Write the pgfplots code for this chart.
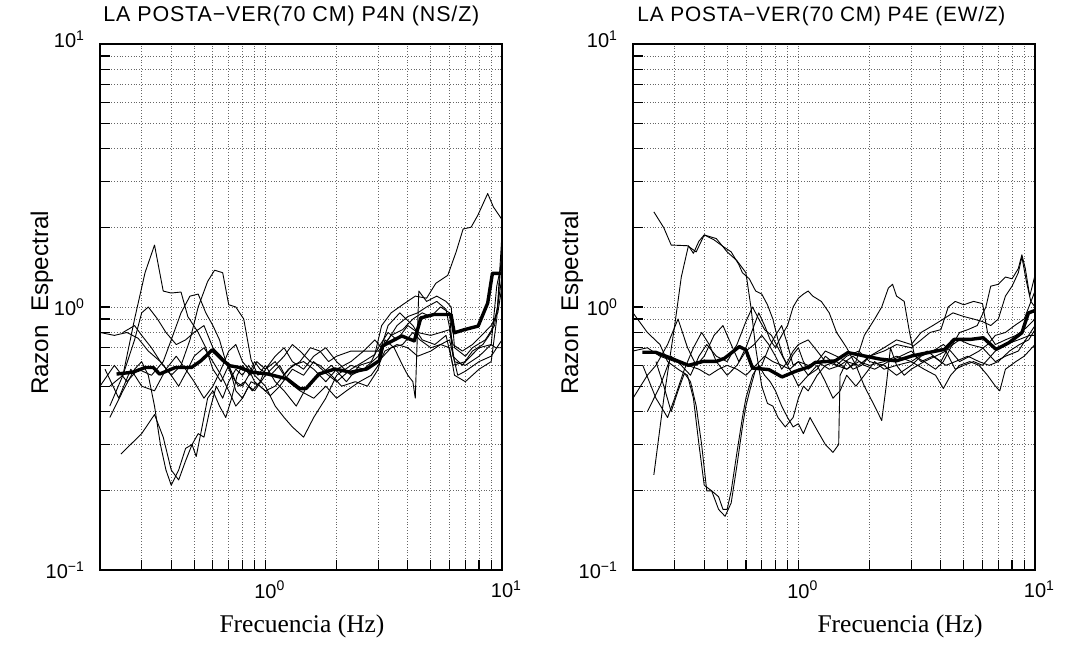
\documentclass[border=0pt]{standalone}
\usepackage{fontspec}
\usepackage{graphicx}
\usepackage{pgfplots}
\pgfplotsset{compat=1.18}
\setmainfont{Liberation Sans}
\newfontfamily\plotfont{Liberation Sans}
\newfontfamily\titlefont[LetterSpace=4]{Liberation Sans}
\newfontfamily\timesfont{Liberation Serif}

\tikzset{
  hvthin/.style={black, line width=0.45pt, line join=round},
  hvmean/.style={black, line width=1.7pt, line join=round},
}

\begin{document}
\begin{tikzpicture}
\path[use as bounding box] (0,0) rectangle (536.5pt,323.5pt);

% ---------------- Left panel: P4N (NS/Z) ----------------
\begin{axis}[at={(50pt,38.5pt)}, anchor=south west,
    scale only axis, width=201pt, height=263pt,
    xmode=log, ymode=log,
    xmin=0.2, xmax=10, ymin=0.1, ymax=10,
    xtick={1,10}, ytick={0.1,1,10},
    minor xtick={0.2,0.3,0.4,0.5,0.6,0.7,0.8,0.9,2,3,4,5,6,7,8,9},
    minor ytick={0.2,0.3,0.4,0.5,0.6,0.7,0.8,0.9,2,3,4,5,6,7,8,9},
    xticklabels={{10\rlap{\textsuperscript{0}}},{10\rlap{\textsuperscript{1}}}},
    yticklabels={{10\textsuperscript{−1}},{10\textsuperscript{0}},{\raisebox{5pt}{10\textsuperscript{1}}}},
    grid=both,
    major grid style={densely dotted, black!60, line width=0.4pt},
    minor grid style={densely dotted, black!60, line width=0.4pt},
    tick align=inside, xtick pos=bottom, ytick pos=left,
    major tick length=5pt, minor tick length=5pt,
    tick style={black, line width=0.6pt},
    axis line style={black, line width=0.8pt},
    ticklabel style={font=\plotfont\fontsize{10pt}{12pt}\selectfont},
    xticklabel style={yshift=-2pt},
    yticklabel style={xshift=-4pt}]
\addplot[hvthin] coordinates {(0.22,0.42)(0.25,0.55)(0.28,0.9)(0.31,1.35)(0.34,1.72)(0.37,1.15)(0.40,1.13)(0.44,1.14)(0.47,0.92)(0.52,0.80)(0.56,0.70)(0.60,0.58)(0.65,0.52)(0.70,0.60)(0.75,0.48)(0.80,0.45)(0.87,0.52)(0.95,0.50)(1.05,0.46)(1.15,0.50)(1.3,0.58)(1.45,0.55)(1.6,0.62)(1.8,0.56)(2.0,0.52)(2.3,0.58)(2.6,0.62)(2.9,0.66)(3.1,0.85)(3.4,0.95)(3.8,1.02)(4.3,1.1)(4.8,1.08)(5.25,1.23)(5.9,1.32)(6.4,1.62)(6.85,1.98)(7.4,2.01)(7.9,2.23)(8.7,2.7)(9.2,2.4)(10,2.15)};
\addplot[hvthin] coordinates {(0.2,0.8)(0.23,0.78)(0.26,0.8)(0.29,0.76)(0.32,0.68)(0.36,0.62)(0.40,0.55)(0.44,0.6)(0.48,0.75)(0.52,1.0)(0.57,1.25)(0.61,1.38)(0.66,1.35)(0.70,1.02)(0.75,1.0)(0.81,0.9)(0.87,0.63)(0.93,0.55)(1.0,0.6)(1.1,0.52)(1.2,0.48)(1.35,0.42)(1.5,0.5)(1.7,0.55)(1.9,0.6)(2.2,0.52)(2.5,0.6)(2.8,0.62)(3.0,0.7)(3.3,0.8)(3.6,0.75)(4.0,0.85)(4.4,0.8)(5,0.78)(5.5,0.8)(6.0,0.82)(6.3,0.62)(7,0.6)(8,0.65)(9,0.72)(9.5,1.2)(10,1.5)};
\addplot[hvthin] coordinates {(0.22,0.38)(0.25,0.48)(0.28,0.58)(0.3,0.62)(0.32,0.55)(0.34,0.42)(0.36,0.3)(0.38,0.24)(0.40,0.21)(0.43,0.24)(0.46,0.29)(0.49,0.30)(0.51,0.27)(0.54,0.35)(0.57,0.45)(0.60,0.48)(0.64,0.42)(0.68,0.38)(0.72,0.45)(0.76,0.55)(0.8,0.6)(0.86,0.55)(0.92,0.62)(1.0,0.58)(1.1,0.65)(1.2,0.7)(1.3,0.62)(1.45,0.58)(1.6,0.65)(1.8,0.7)(2.0,0.62)(2.3,0.55)(2.6,0.58)(3.0,0.65)(3.3,0.85)(3.7,0.95)(4.2,0.85)(4.6,0.75)(5.2,0.72)(5.8,0.78)(6.2,0.6)(7,0.62)(8,0.7)(9,0.72)(9.4,0.7)(10,0.7)};
\addplot[hvthin] coordinates {(0.245,0.276)(0.3,0.33)(0.34,0.39)(0.37,0.32)(0.40,0.24)(0.43,0.22)(0.46,0.26)(0.49,0.30)(0.52,0.33)(0.55,0.32)(0.58,0.40)(0.62,0.50)(0.66,0.45)(0.7,0.52)(0.75,0.58)(0.8,0.55)(0.85,0.6)(0.9,0.55)(1.0,0.5)(1.1,0.42)(1.2,0.38)(1.3,0.35)(1.45,0.32)(1.6,0.38)(1.8,0.45)(2.0,0.55)(2.3,0.6)(2.6,0.58)(3.0,0.62)(3.4,0.7)(3.8,0.72)(4.2,0.8)(4.5,0.75)(5,0.7)(5.5,0.72)(6,0.75)(6.5,0.55)(7,0.57)(8,0.62)(9,0.65)(10,0.75)};
\addplot[hvthin] coordinates {(0.22,0.5)(0.25,0.55)(0.28,0.75)(0.3,0.95)(0.32,1.0)(0.35,0.9)(0.38,0.8)(0.42,0.72)(0.46,0.75)(0.5,0.8)(0.55,0.85)(0.6,0.7)(0.65,0.65)(0.7,0.6)(0.75,0.52)(0.8,0.5)(0.85,0.55)(0.9,0.62)(0.95,0.58)(1.05,0.55)(1.15,0.6)(1.25,0.52)(1.4,0.48)(1.6,0.45)(1.8,0.5)(2.0,0.45)(2.2,0.48)(2.5,0.52)(2.8,0.55)(3.0,0.6)(3.2,0.68)(3.6,0.72)(4.0,0.7)(4.4,0.65)(5,0.68)(5.5,0.72)(6,0.7)(6.3,0.55)(7,0.52)(8,0.58)(9,0.62)(9.5,0.9)(10,1.9)};
\addplot[hvthin] coordinates {(0.2,0.5)(0.23,0.6)(0.26,0.52)(0.29,0.58)(0.33,0.55)(0.37,0.62)(0.4,0.75)(0.44,0.95)(0.48,1.1)(0.52,1.12)(0.56,0.95)(0.6,0.85)(0.64,0.75)(0.68,0.62)(0.72,0.55)(0.77,0.5)(0.82,0.52)(0.88,0.48)(0.95,0.52)(1.0,0.58)(1.1,0.62)(1.2,0.55)(1.3,0.6)(1.45,0.62)(1.6,0.58)(1.8,0.52)(2.0,0.58)(2.3,0.62)(2.6,0.68)(2.9,0.75)(3.1,0.7)(3.4,0.78)(3.8,0.82)(4.2,0.9)(4.6,0.95)(5.0,0.92)(5.5,1.0)(6.0,0.95)(6.2,0.65)(6.8,0.6)(7.5,0.68)(8.3,0.72)(9,0.8)(9.6,1.0)(10,1.7)};
\addplot[hvthin] coordinates {(0.25,0.8)(0.28,0.85)(0.3,0.78)(0.33,0.7)(0.36,0.62)(0.4,0.55)(0.43,0.5)(0.47,0.58)(0.5,0.65)(0.55,0.7)(0.6,0.62)(0.65,0.55)(0.7,0.48)(0.75,0.42)(0.8,0.45)(0.85,0.5)(0.9,0.48)(1.0,0.55)(1.1,0.6)(1.2,0.65)(1.3,0.72)(1.4,0.68)(1.55,0.62)(1.7,0.6)(1.9,0.55)(2.1,0.5)(2.4,0.52)(2.7,0.5)(3.0,0.58)(3.2,0.75)(3.5,0.7)(3.8,0.6)(4.0,0.55)(4.2,0.52)(4.3,0.45)(4.45,1.15)(4.8,1.05)(5.3,1.1)(5.8,1.05)(6.1,1.0)(6.3,0.7)(7,0.65)(7.5,0.7)(8.5,0.75)(9.3,0.85)(10,1.3)};
\addplot[hvthin] coordinates {(0.21,0.58)(0.24,0.45)(0.27,0.58)(0.3,0.5)(0.34,0.48)(0.38,0.58)(0.42,0.65)(0.46,0.58)(0.5,0.52)(0.55,0.45)(0.6,0.5)(0.65,0.58)(0.7,0.68)(0.75,0.72)(0.8,0.62)(0.85,0.58)(0.9,0.52)(1.0,0.48)(1.1,0.5)(1.25,0.58)(1.4,0.62)(1.55,0.7)(1.7,0.68)(1.85,0.62)(2.0,0.65)(2.3,0.68)(2.6,0.68)(3.0,0.68)(3.3,0.75)(3.6,0.85)(4.0,0.92)(4.4,0.95)(4.8,1.0)(5.3,1.05)(5.8,0.98)(6.2,0.72)(6.8,0.68)(7.5,0.72)(8.2,0.78)(9,0.85)(9.6,0.95)(10,1.2)};
\addplot[hvmean] coordinates {(0.235,0.556)(0.275,0.565)(0.311,0.589)(0.336,0.589)(0.357,0.556)(0.417,0.589)(0.487,0.589)(0.535,0.625)(0.596,0.687)(0.664,0.625)(0.707,0.598)(0.776,0.589)(0.878,0.565)(1.025,0.556)(1.234,0.533)(1.397,0.489)(1.486,0.49)(1.683,0.556)(1.965,0.581)(2.295,0.565)(2.68,0.581)(3.03,0.625)(3.13,0.711)(3.77,0.776)(4.26,0.743)(4.54,0.909)(5.14,0.936)(6.09,0.936)(6.28,0.798)(7.0,0.822)(7.93,0.846)(8.7,1.035)(9.11,1.343)(10,1.343)};
\end{axis}

% ---------------- Right panel: P4E (EW/Z) ----------------
\begin{axis}[at={(316.5pt,38.5pt)}, anchor=south west,
    scale only axis, width=201pt, height=263pt,
    xmode=log, ymode=log,
    xmin=0.2, xmax=10, ymin=0.1, ymax=10,
    xtick={1,10}, ytick={0.1,1,10},
    minor xtick={0.2,0.3,0.4,0.5,0.6,0.7,0.8,0.9,2,3,4,5,6,7,8,9},
    minor ytick={0.2,0.3,0.4,0.5,0.6,0.7,0.8,0.9,2,3,4,5,6,7,8,9},
    xticklabels={{10\rlap{\textsuperscript{0}}},{10\rlap{\textsuperscript{1}}}},
    yticklabels={{10\textsuperscript{−1}},{10\textsuperscript{0}},{\raisebox{5pt}{10\textsuperscript{1}}}},
    grid=both,
    major grid style={densely dotted, black!60, line width=0.4pt},
    minor grid style={densely dotted, black!60, line width=0.4pt},
    tick align=inside, xtick pos=bottom, ytick pos=left,
    major tick length=5pt, minor tick length=5pt,
    tick style={black, line width=0.6pt},
    axis line style={black, line width=0.8pt},
    ticklabel style={font=\plotfont\fontsize{10pt}{12pt}\selectfont},
    xticklabel style={yshift=-2pt},
    yticklabel style={xshift=-4pt}]
\addplot[hvthin] coordinates {(0.245,2.3)(0.27,2.0)(0.29,1.72)(0.34,1.71)(0.37,1.62)(0.40,1.88)(0.44,1.80)(0.48,1.70)(0.52,1.62)(0.56,1.45)(0.58,1.35)(0.62,1.28)(0.66,1.15)(0.7,1.12)(0.74,1.02)(0.78,0.9)(0.82,0.75)(0.86,0.65)(0.9,0.6)(0.95,0.66)(1.0,0.7)(1.05,0.62)(1.1,0.58)(1.2,0.62)(1.3,0.68)(1.45,0.65)(1.6,0.62)(1.8,0.6)(2.0,0.65)(2.3,0.68)(2.6,0.72)(3.0,0.7)(3.3,0.75)(3.6,0.8)(4.0,0.82)(4.3,1.0)(4.6,1.05)(5.0,1.02)(5.5,1.05)(6.0,1.03)(6.3,0.8)(6.8,0.72)(7.5,0.75)(8.3,0.78)(9,0.82)(10,0.9)};
\addplot[hvthin] coordinates {(0.245,0.23)(0.27,0.45)(0.3,0.85)(0.32,1.3)(0.343,1.71)(0.36,1.6)(0.38,1.78)(0.40,1.88)(0.45,1.82)(0.5,1.62)(0.55,1.5)(0.6,1.35)(0.63,1.0)(0.66,0.7)(0.7,0.5)(0.74,0.43)(0.78,0.42)(0.82,0.38)(0.88,0.35)(0.95,0.38)(1.0,0.45)(1.05,0.5)(1.1,0.48)(1.2,0.55)(1.3,0.6)(1.45,0.62)(1.6,0.58)(1.8,0.62)(2.0,0.6)(2.3,0.62)(2.6,0.65)(3.0,0.62)(3.5,0.68)(4.0,0.62)(4.3,0.7)(4.8,0.75)(5.3,0.72)(6,0.7)(6.8,0.62)(7.5,0.65)(8.5,0.68)(10,0.85)};
\addplot[hvthin] coordinates {(0.2,0.95)(0.23,0.8)(0.26,0.72)(0.28,0.62)(0.31,0.58)(0.34,0.55)(0.36,0.45)(0.38,0.3)(0.40,0.21)(0.43,0.2)(0.46,0.17)(0.49,0.16)(0.52,0.18)(0.55,0.25)(0.58,0.35)(0.6,0.42)(0.63,0.5)(0.66,0.58)(0.7,0.6)(0.75,0.7)(0.8,0.78)(0.85,0.85)(0.9,0.72)(0.95,0.6)(1.0,0.62)(1.1,0.55)(1.2,0.6)(1.3,0.52)(1.4,0.45)(1.5,0.48)(1.6,0.55)(1.75,0.5)(1.9,0.55)(2.1,0.62)(2.3,0.58)(2.6,0.6)(3.0,0.62)(3.4,0.58)(3.8,0.55)(4.1,0.49)(4.4,0.55)(4.8,0.6)(5.3,0.62)(5.8,0.6)(6.3,0.55)(6.8,0.5)(7.1,0.48)(7.5,0.58)(8.3,0.62)(9,0.65)(10,0.72)};
\addplot[hvthin] coordinates {(0.25,0.62)(0.27,0.5)(0.29,0.4)(0.31,0.48)(0.33,0.56)(0.35,0.52)(0.37,0.42)(0.39,0.3)(0.41,0.2)(0.43,0.2)(0.46,0.19)(0.48,0.17)(0.5,0.17)(0.52,0.2)(0.55,0.28)(0.58,0.38)(0.6,0.45)(0.64,0.55)(0.68,0.6)(0.72,0.55)(0.76,0.52)(0.8,0.48)(0.85,0.42)(0.9,0.38)(0.95,0.35)(1.0,0.36)(1.05,0.33)(1.12,0.38)(1.2,0.34)(1.3,0.3)(1.4,0.28)(1.48,0.3)(1.5,0.55)(1.6,0.62)(1.7,0.58)(1.85,0.6)(2.0,0.65)(2.3,0.7)(2.6,0.75)(3.0,0.72)(3.3,0.8)(3.7,0.85)(4.1,0.9)(4.5,0.95)(5,0.92)(5.5,0.9)(6,0.88)(6.5,0.85)(7,0.9)(7.5,1.1)(8,1.2)(8.5,1.35)(8.8,1.55)(9.2,1.25)(9.6,1.05)(10,1.0)};
\addplot[hvthin] coordinates {(0.2,0.45)(0.23,0.55)(0.25,0.6)(0.28,0.72)(0.31,0.9)(0.34,0.7)(0.37,0.6)(0.4,0.65)(0.44,0.78)(0.48,0.85)(0.52,0.72)(0.56,0.62)(0.6,0.7)(0.64,0.82)(0.68,0.95)(0.72,0.85)(0.76,0.75)(0.8,0.7)(0.85,0.78)(0.9,0.85)(0.95,1.0)(1.0,1.08)(1.05,1.12)(1.1,1.15)(1.15,1.1)(1.25,1.05)(1.35,0.95)(1.45,0.8)(1.6,0.7)(1.75,0.6)(1.9,0.5)(2.1,0.42)(2.25,0.37)(2.35,0.5)(2.45,0.7)(2.6,0.6)(2.8,0.55)(3.0,0.58)(3.4,0.62)(3.8,0.65)(4.2,0.68)(4.6,0.58)(5.0,0.6)(5.5,0.62)(6,0.6)(6.5,0.65)(7,0.7)(7.5,0.72)(8.5,0.75)(9.5,0.78)(10,0.78)};
\addplot[hvthin] coordinates {(0.22,0.6)(0.25,0.45)(0.28,0.38)(0.3,0.45)(0.33,0.58)(0.36,0.7)(0.39,0.8)(0.42,0.72)(0.45,0.62)(0.5,0.55)(0.55,0.6)(0.6,0.68)(0.65,0.72)(0.7,0.78)(0.75,0.72)(0.8,0.65)(0.85,0.58)(0.9,0.62)(0.95,0.68)(1.0,0.72)(1.1,0.75)(1.2,0.68)(1.3,0.62)(1.45,0.6)(1.6,0.58)(1.75,0.62)(1.9,0.78)(2.1,0.9)(2.25,1.0)(2.4,1.18)(2.5,1.22)(2.6,1.1)(2.8,1.05)(2.95,0.8)(3.1,0.65)(3.4,0.62)(3.8,0.58)(4.1,0.62)(4.4,0.7)(4.8,0.8)(5.2,0.82)(5.7,0.85)(6.2,1.0)(6.5,1.2)(7,1.22)(7.5,1.3)(8,1.28)(8.5,1.4)(8.8,1.58)(9.1,1.4)(9.5,1.1)(10,1.32)};
\addplot[hvthin] coordinates {(0.23,0.4)(0.26,0.5)(0.29,0.65)(0.32,0.6)(0.35,0.55)(0.38,0.65)(0.41,0.72)(0.45,0.65)(0.5,0.62)(0.55,0.72)(0.6,0.88)(0.64,1.0)(0.68,0.9)(0.72,0.82)(0.77,0.78)(0.82,0.7)(0.88,0.62)(0.95,0.55)(1.0,0.5)(1.1,0.55)(1.2,0.58)(1.3,0.65)(1.45,0.6)(1.6,0.65)(1.8,0.68)(2.0,0.62)(2.3,0.6)(2.6,0.55)(3.0,0.6)(3.3,0.65)(3.7,0.68)(4.1,0.72)(4.4,0.68)(4.8,0.62)(5.3,0.65)(5.8,0.68)(6.3,0.72)(6.8,0.78)(7.5,0.8)(8.2,0.85)(9,0.9)(10,1.15)};
\addplot[hvthin] coordinates {(0.2,0.68)(0.23,0.7)(0.26,0.65)(0.3,0.62)(0.34,0.6)(0.38,0.58)(0.42,0.55)(0.46,0.58)(0.5,0.6)(0.55,0.58)(0.6,0.55)(0.66,0.6)(0.72,0.65)(0.78,0.62)(0.85,0.6)(0.92,0.58)(1.0,0.62)(1.1,0.6)(1.2,0.62)(1.35,0.58)(1.5,0.6)(1.7,0.65)(1.9,0.6)(2.1,0.58)(2.4,0.62)(2.7,0.65)(3.0,0.68)(3.3,0.62)(3.7,0.65)(4.2,0.6)(4.6,0.62)(5.2,0.65)(5.8,0.62)(6.4,0.6)(7,0.62)(7.8,0.68)(8.6,0.72)(9.4,0.75)(10,0.82)};
\addplot[hvmean] coordinates {(0.219,0.673)(0.249,0.673)(0.278,0.648)(0.343,0.6)(0.396,0.621)(0.45,0.621)(0.488,0.639)(0.563,0.707)(0.60,0.687)(0.64,0.586)(0.751,0.578)(0.853,0.542)(0.97,0.569)(1.12,0.594)(1.18,0.616)(1.43,0.624)(1.62,0.671)(1.89,0.652)(2.21,0.634)(2.59,0.624)(3.03,0.652)(3.54,0.671)(4.15,0.69)(4.55,0.753)(5.33,0.753)(6.04,0.764)(6.85,0.69)(7.77,0.732)(8.8,0.798)(9.38,0.949)(10,0.97)};
\end{axis}

% ---------------- Titles and labels ----------------
\begin{scope}[every node/.style={inner sep=0pt}]
\node[anchor=west] at (51.5pt,315.5pt) {\resizebox{188pt}{!}{\titlefont LA POSTA−VER(70 CM) P4N (NS/Z)}};
\node[anchor=west] at (318.5pt,315.5pt) {\resizebox{184pt}{!}{\titlefont LA POSTA−VER(70 CM) P4E (EW/Z)}};
\node[rotate=90] at (21pt,172pt) {\resizebox{92pt}{!}{\plotfont Razon\ \ Espectral}};
\node[rotate=90] at (286pt,172pt) {\resizebox{92pt}{!}{\plotfont Razon\ \ Espectral}};
\node[font=\timesfont\fontsize{12.75pt}{14pt}\selectfont] at (151pt,10.5pt) {Frecuencia (Hz)};
\node[font=\timesfont\fontsize{12.75pt}{14pt}\selectfont] at (450pt,10.5pt) {Frecuencia (Hz)};
\end{scope}
\end{tikzpicture}
\end{document}
